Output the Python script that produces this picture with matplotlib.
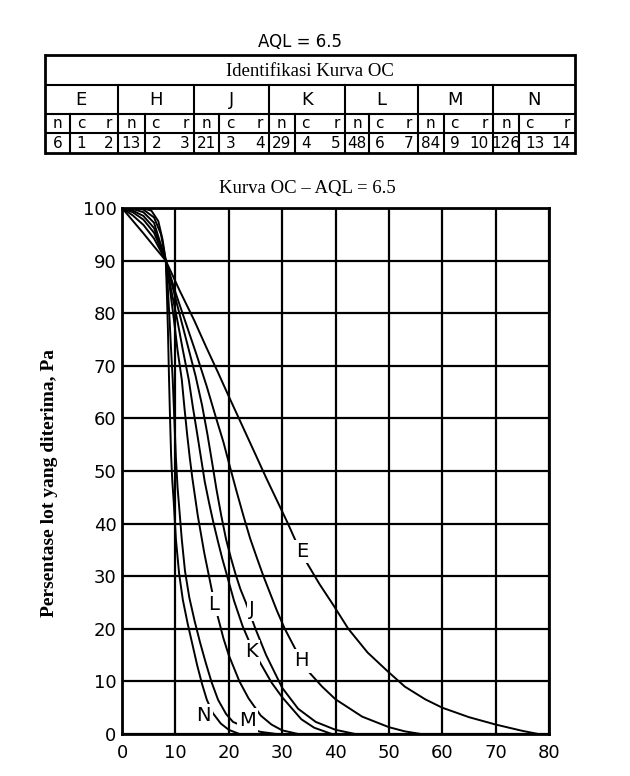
import matplotlib
matplotlib.use("Agg")
import matplotlib.pyplot as plt

# ---------------- data ----------------
table_title = "Identifikasi Kurva OC"
curve_names = ["E", "H", "J", "K", "L", "M", "N"]
n_values = [6, 13, 21, 29, 48, 84, 126]
c_values = [1, 2, 3, 4, 6, 9, 13]
r_values = [2, 3, 4, 5, 7, 10, 14]

xticks = [0, 10, 20, 30, 40, 50, 60, 70, 80]
yticks = [0, 10, 20, 30, 40, 50, 60, 70, 80, 90, 100]

E_x = [0, 2, 4, 6, 8.2, 10.8, 13.5, 15.8, 18, 20, 22.4, 24.8, 27.1, 29.5, 31, 32.5, 34.6, 37, 39.6, 42.4, 46, 49.9, 53, 56.8, 60, 65, 70, 75, 78]
E_y = [100, 97.6, 95.2, 92.7, 90, 84.3, 78.7, 73.5, 68.7, 64.2, 58.9, 53.6, 48.5, 43.4, 40.2, 36.8, 32.6, 28.5, 24.5, 20, 15.5, 11.8, 9, 6.6, 5, 3.2, 1.8, 0.6, 0]

H_x = [0, 2, 4, 6, 8.2, 10, 12, 14, 15.9, 17.5, 19, 20.3, 21.5, 22.8, 24, 25.3, 26.5, 29, 30.5, 32.4, 35, 37.5, 40, 45, 50, 53, 56]
H_y = [100, 98.6, 96.8, 94.2, 90, 84, 78, 72, 66, 60.5, 55.5, 50.5, 46, 41.3, 37.2, 33.4, 30, 23.5, 20, 16.3, 11.8, 9, 6.6, 3.3, 1.3, 0.5, 0]

J_x = [0, 2, 4, 6, 8.2, 9.6, 11, 12.4, 13.8, 15, 16, 16.9, 17.7, 18.6, 19.5, 20.4, 21.3, 22.2, 23.2, 25, 27, 30, 33, 36.3, 40, 43.7]
J_y = [100, 99.2, 97.8, 95.3, 90, 84.5, 79, 73.5, 68, 62.5, 57, 51.5, 46.5, 41.5, 37, 33.5, 30.3, 27.5, 25, 20, 15, 8.8, 4.8, 2.3, 0.8, 0]

K_x = [0, 2, 4, 6, 8.2, 9.2, 10.3, 11.4, 12.5, 13.3, 14.1, 14.8, 15.5, 16.3, 17.1, 18, 18.8, 19.6, 21, 22.6, 24.5, 26.2, 28, 30, 33.6, 36, 39.3]
K_y = [100, 99.5, 98.5, 96.2, 90, 84.5, 79, 73, 67.4, 62, 57, 52.5, 48, 44, 40.3, 36.5, 33.3, 30.4, 25.3, 20.5, 16, 13, 9.8, 7, 2.8, 1.2, 0]

L_x = [0, 2, 4, 6, 8.2, 9, 9.7, 10.4, 11.2, 11.7, 12.2, 12.7, 13.2, 13.7, 14.2, 14.8, 15.4, 16.1, 16.9, 17.9, 19, 20, 22, 23.7, 26, 28, 30, 33]
L_y = [100, 99.8, 99.2, 97.2, 90, 84.5, 79, 73, 67.4, 62, 57, 52.5, 48.5, 45, 41.5, 38, 34.5, 31, 27, 22.5, 18.2, 15, 10, 6.8, 3.5, 1.8, 0.7, 0]

M_x = [0, 2, 4, 6, 7.3, 8.2, 8.6, 8.9, 9.2, 9.5, 9.8, 10.1, 10.4, 10.8, 11.2, 11.8, 12.6, 13.6, 14.6, 15.7, 16.8, 18, 19.5, 20.8, 23.5, 26, 29]
M_y = [100, 100, 99.7, 98.2, 95, 90, 84.5, 79, 73, 67.4, 60, 52.5, 47, 42, 37, 31, 26, 21.5, 17.5, 13.5, 9.8, 6.5, 3.8, 2.3, 1.1, 0.4, 0]

N_x = [0, 2, 4, 5.5, 6.8, 7.6, 8.2, 8.4, 8.6, 8.8, 9.0, 9.2, 9.4, 9.7, 10.1, 10.7, 11.4, 12.3, 13.2, 14.1, 15, 15.9, 17, 18.5, 20, 22]
N_y = [100, 100, 99.9, 99.5, 97.5, 94, 90, 84, 77, 68, 60, 53, 48.5, 44, 37, 30.5, 25.5, 21, 17, 13, 9.5, 6.5, 4, 2, 0.8, 0]

curves = {"E": (E_x, E_y), "H": (H_x, H_y), "J": (J_x, J_y), "K": (K_x, K_y),
          "L": (L_x, L_y), "M": (M_x, M_y), "N": (N_x, N_y)}

label_x = [33.7, 33.7, 24.4, 24.2, 17.1, 23.5, 15.2]
label_y = [34.7, 13.9, 23.7, 15.6, 24.7, 2.6, 3.5]

# ---------------- figure ----------------
W, H = 630, 776
fig = plt.figure(figsize=(W / 100, H / 100), dpi=100)
fig.patch.set_facecolor("white")

serif = ["Liberation Serif", "DejaVu Serif"]
sans = ["DejaVu Sans"]

def fx(px):
    return px / W

def fy(py):
    return 1 - py / H

# ---- top text
fig.text(fx(300), fy(42), "AQL = 6.5", ha="center", va="center", fontsize=12,
         family=sans)

# ---- table
tab = fig.add_axes([fx(45), fy(153), fx(575) - fx(45), fy(55) - fy(153)])
tab.set_xlim(0, 1)
tab.set_ylim(0, 1)
tab.axis("off")
tH = 153 - 55
def ty(py):
    return 1 - (py - 55) / tH

rows = [55, 85, 114, 133, 153]
group_frac = [0.0, 0.137, 0.281, 0.422, 0.566, 0.703, 0.845, 1.0]
n_frac = [0.35, 0.36, 0.34, 0.34, 0.33, 0.35, 0.32]
lw_out = 2.0
lw_in = 1.5
for r in rows:
    tab.plot([0, 1], [ty(r), ty(r)], color="black", lw=lw_out if r in (55, 153) else lw_in,
             solid_capstyle="butt", clip_on=False)
tab.plot([0, 0], [ty(55), ty(153)], color="black", lw=lw_out, clip_on=False)
tab.plot([1, 1], [ty(55), ty(153)], color="black", lw=lw_out, clip_on=False)
for g in group_frac[1:-1]:
    tab.plot([g, g], [ty(85), ty(153)], color="black", lw=lw_in, clip_on=False)
tab.text(0.5, ty(71), table_title, ha="center", va="center", fontsize=13.5, family=serif)
for i, name in enumerate(curve_names):
    g0, g1 = group_frac[i], group_frac[i + 1]
    gw = g1 - g0
    nd = g0 + n_frac[i] * gw
    tab.plot([nd, nd], [ty(114), ty(153)], color="black", lw=lw_in, clip_on=False)
    tab.text((g0 + g1) / 2, ty(100), name, ha="center", va="center", fontsize=13, family=sans)
    tab.text((g0 + nd) / 2, ty(123.5), "n", ha="center", va="center", fontsize=11, family=sans)
    tab.text(nd + 0.012, ty(123.5), "c", ha="left", va="center", fontsize=11, family=sans)
    tab.text(g1 - 0.01, ty(123.5), "r", ha="right", va="center", fontsize=11, family=sans)
    tab.text((g0 + nd) / 2, ty(143), str(n_values[i]), ha="center", va="center",
             fontsize=11, family=sans)
    tab.text(nd + 0.012, ty(143), str(c_values[i]), ha="left", va="center", fontsize=11, family=sans)
    tab.text(g1 - 0.008, ty(143), str(r_values[i]), ha="right", va="center", fontsize=11, family=sans)

# ---- chart title
fig.text(fx(307), fy(188), "Kurva OC \u2013 AQL = 6.5", ha="center", va="center",
         fontsize=13.5, family=serif)

# ---- main axes
ax = fig.add_axes([fx(122), fy(734), fx(549) - fx(122), fy(208) - fy(734)])
ax.set_xlim(0, 80)
ax.set_ylim(0, 100)
ax.set_xticks(xticks)
ax.set_yticks(yticks)
ax.set_xticklabels([str(v) for v in xticks], fontsize=13, family=sans)
ax.set_yticklabels([str(v) for v in yticks], fontsize=13, family=sans)
ax.tick_params(axis="y", length=0, pad=4)
ax.tick_params(axis="x", length=0, pad=7)
ax.grid(True, color="black", lw=1.6, zorder=0)
ax.set_axisbelow(True)
for s in ax.spines.values():
    s.set_linewidth(2.0)
    s.set_color("black")

for name in curve_names:
    xs, ys = curves[name]
    ax.plot(xs, ys, color="black", lw=1.4, zorder=3, solid_joinstyle="round")

for name, lx, ly in zip(curve_names, label_x, label_y):
    ax.text(lx, ly, name, ha="center", va="center", fontsize=14, family=sans, zorder=5,
            bbox=dict(boxstyle="square,pad=0.12", fc="white", ec="none"))

fig.text(fx(50), fy(483), "Persentase lot yang diterima, Pa", rotation=90, ha="center",
         va="center", fontsize=14, family=serif, fontweight="bold")

fig.savefig("out.png", dpi=100, facecolor="white")
